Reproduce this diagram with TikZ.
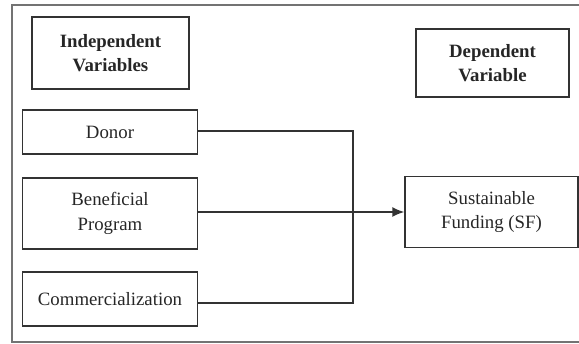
\documentclass[tikz,border=0pt]{standalone}
\usepackage{fontspec}
\setmainfont{Liberation Serif}
\usetikzlibrary{arrows.meta}
\begin{document}
\begin{tikzpicture}[x=1pt,y=-1pt,
  box/.style={draw=black!80, line width=1.4pt, inner sep=0pt, align=center,
    text=black!85, font=\fontsize{18.8}{24.5}\selectfont},
  head/.style={box, font=\fontsize{18.8}{24}\selectfont\bfseries},
  conn/.style={draw=black!80, line width=1.5pt}]
\useasboundingbox (0,0) rectangle (579,344);
\draw[black!55, line width=2pt] (590,5) -- (12,5) -- (12,342.5) -- (590,342.5);
\node[head, minimum width=157pt, minimum height=72pt] (iv) at (110.5,53) {Independent\\Variables};
\node[head, minimum width=153pt, minimum height=68pt] (dv) at (492.5,63) {Dependent\\Variable};
\node[box, minimum width=175pt, minimum height=44pt] (donor) at (110,132) {Donor};
\node[box, minimum width=175pt, minimum height=71pt] (ben) at (110,213.5) {Beneficial\\Program};
\node[box, minimum width=173pt, minimum height=71pt] (sf) at (491.5,212) {Sustainable\\Funding (SF)};
\node[box, minimum width=175pt, minimum height=54pt] (com) at (110,299) {Commercialization};
\coordinate (jt) at (353,131);
\coordinate (jb) at (353,303);
\draw[conn] (donor.east |- jt) -- (jt) -- (jb) -- (com.east |- jb);
\draw[conn, -{Latex[length=12pt,width=10pt]}] (ben.east |- sf.west) -- (sf.west);
\end{tikzpicture}
\end{document}
